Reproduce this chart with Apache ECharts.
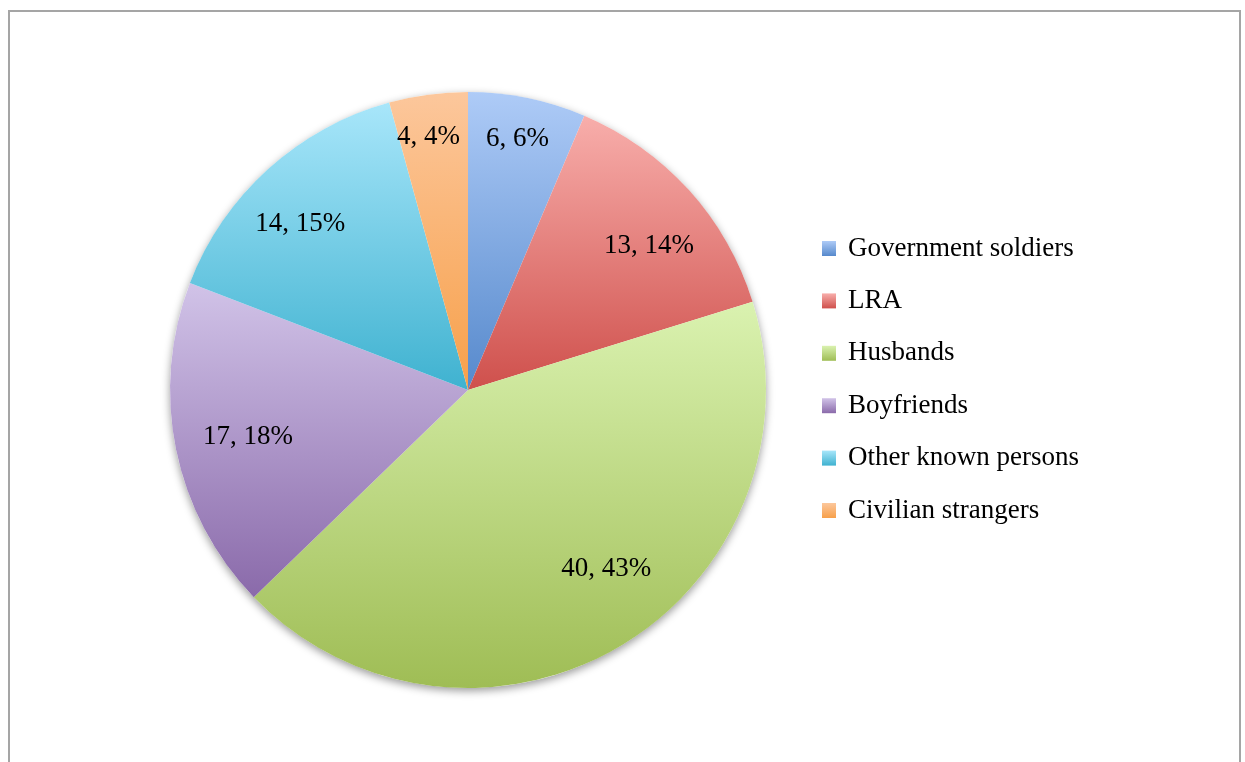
<!DOCTYPE html>
<html>
<head>
<meta charset="utf-8">
<title>Pie</title>
<script src="https://cdn.jsdelivr.net/npm/echarts@6/dist/echarts.min.js"></script>
<style>
  html, body { margin: 0; padding: 0; background: #fff; }
  #main { width: 1245px; height: 762px; }
</style>
</head>
<body>
<div id="main"></div>
<script>
// data
var categories = ['Government soldiers', 'LRA', 'Husbands', 'Boyfriends', 'Other known persons', 'Civilian strangers'];
var counts = [6, 13, 40, 17, 14, 4];
// light (top) / dark (bottom) colour of each slice gradient
var topColors = ['#aecbf7', '#f8aeab', '#daf2b0', '#d1c3e8', '#a8e6fa', '#fcc79c'];
var bottomColors = ['#5689cc', '#cf504c', '#9fbd55', '#8a6aaa', '#3fb2d0', '#f7a04a'];
// small label nudges (Excel "best fit" places them unevenly)
var labelNudge = [[1, -12], [0, 20], [14, -31], [19, -2], [-4, 15], [-7, -11]];

var FONT = '"Liberation Serif", "DejaVu Serif", serif';

function grad(i) {
    return {
        type: 'linear', x: 0, y: 0, x2: 0, y2: 1,
        colorStops: [
            { offset: 0, color: topColors[i] },
            { offset: 1, color: bottomColors[i] }
        ]
    };
}

var total = 0;
var pieData = [];
var labelData = [];
for (var i = 0; i < categories.length; i++) {
    total += counts[i];
    pieData.push({ name: categories[i], value: counts[i], itemStyle: { color: grad(i) } });
    labelData.push({ name: categories[i], value: counts[i], label: { offset: labelNudge[i] } });
}

var CENTER = [468, 390];

var option = {
    animation: false,
    backgroundColor: '#ffffff',
    graphic: [
        {
            type: 'rect',
            shape: { x: 9, y: 11, width: 1231, height: 800 },
            style: { fill: 'none', stroke: '#a5a5a5', lineWidth: 2 },
            silent: true
        }
    ],
    legend: {
        orient: 'vertical',
        left: 822,
        top: 235,
        padding: 0,
        itemWidth: 14,
        itemHeight: 15,
        itemGap: 25.4,
        icon: 'rect',
        data: categories,
        textStyle: {
            fontFamily: FONT,
            fontSize: 27,
            color: '#000',
            lineHeight: 27,
            padding: [0, 0, 0, 7]
        }
    },
    series: [
        {
            // plain disc underneath, only to cast the outer shadow
            type: 'pie',
            name: 'shadow',
            center: CENTER,
            radius: [0, 298],
            silent: true,
            z: 1,
            label: { show: false },
            labelLine: { show: false },
            itemStyle: {
                color: '#ffffff',
                shadowBlur: 8,
                shadowOffsetY: 3,
                shadowColor: 'rgba(0,0,0,0.4)'
            },
            emphasis: { disabled: true },
            data: [{ name: 'all', value: total }]
        },
        {
            type: 'pie',
            name: 'main',
            center: CENTER,
            radius: [0, 298],
            startAngle: 90,
            clockwise: true,
            percentPrecision: 0,
            z: 2,
            label: { show: false },
            labelLine: { show: false },
            emphasis: { disabled: true },
            data: pieData
        },
        {
            // transparent ring that only carries the labels
            type: 'pie',
            name: 'labels',
            center: CENTER,
            radius: [184, 298],
            startAngle: 90,
            clockwise: true,
            percentPrecision: 0,
            silent: true,
            z: 3,
            itemStyle: { color: 'rgba(0,0,0,0)' },
            labelLine: { show: false },
            label: {
                show: true,
                position: 'inside',
                formatter: '{c}, {d}%',
                fontFamily: FONT,
                fontSize: 27,
                color: '#000'
            },
            emphasis: { disabled: true },
            data: labelData
        }
    ]
};

var chart = echarts.init(document.getElementById('main'));
chart.setOption(option);
</script>
</body>
</html>
